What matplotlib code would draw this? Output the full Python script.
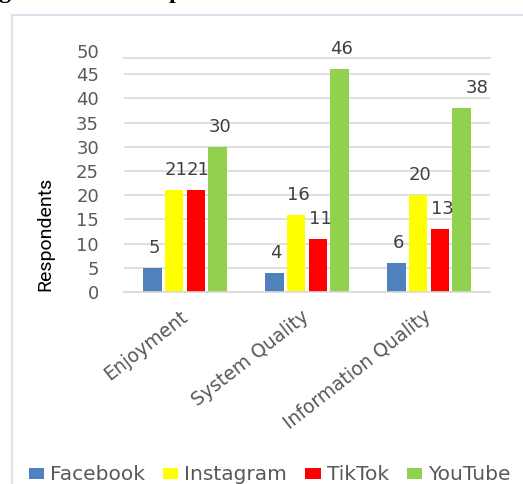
import numpy as np
import matplotlib
matplotlib.use("Agg")
import matplotlib.pyplot as plt
from matplotlib.lines import Line2D

# Respondents per platform for each ISS dimension
categories = ["Enjoyment", "System Quality", "Information Quality"]
platforms = ["Facebook", "Instagram", "TikTok", "YouTube"]
facebook = [5, 4, 6]
instagram = [21, 16, 20]
tiktok = [21, 11, 13]
youtube = [30, 46, 38]
colors = ["#4f81bd", "#ffff00", "#ff0000", "#92d050"]
yticks = [0, 5, 10, 15, 20, 25, 30, 35, 40, 45]

series = [facebook, instagram, tiktok, youtube]

W, H = 523, 484
fig = plt.figure(figsize=(W / 100, H / 100), dpi=100)
ax = fig.add_axes([124 / W, (H - 292) / H, 366 / W, 234 / H])

x = np.arange(len(categories))
step = 0.18
width = 0.155
bars = []
for i, (vals, col) in enumerate(zip(series, colors)):
    b = ax.bar(x + (i - 1.5) * step, vals, width, color=col, zorder=2, label=platforms[i])
    bars.append(b)
    for j, v in enumerate(vals):
        dx = 15 if v == 38 else 2
        ax.annotate(str(v), xy=(x[j] + (i - 1.5) * step, v), xytext=(dx, 20),
                    textcoords="offset pixels", ha="center", va="center",
                    fontsize=13, color="#404040", annotation_clip=False)

grid = "#d9d9d9"
ax.set_xlim(-0.5, 2.5)
ax.set_ylim(0, 48.35)
ax.set_yticks(yticks)
ax.yaxis.grid(True, color=grid, lw=1.2, zorder=0)
ax.set_axisbelow(True)
for s in ["left", "right"]:
    ax.spines[s].set_visible(False)
for s in ["top", "bottom"]:
    ax.spines[s].set_color(grid)
    ax.spines[s].set_linewidth(1.2)
ax.tick_params(axis="y", length=0, pad=18, labelsize=13, labelcolor="#595959")
ax.annotate("50", xy=(0, 49.4), xycoords=("axes fraction", "data"), xytext=(-25, 0),
            textcoords="offset pixels", ha="right", va="center", fontsize=13,
            color="#595959", annotation_clip=False)

ax.set_xticks(x)
ax.set_xticklabels(categories, rotation=38, ha="right", va="center",
                   rotation_mode="anchor", fontsize=13.5, color="#595959")
ax.tick_params(axis="x", length=0, pad=16)

fig.text(45 / W, 1 - 234 / H, "Respondents", rotation=90, ha="center", va="center",
         family=["Roboto", "DejaVu Sans"], fontsize=14, color="#000000")

fig.legend(handles=bars, labels=platforms, loc="center left",
           bbox_to_anchor=(29 / W, 1 - 475 / H), ncol=4, frameon=False,
           fontsize=14.5, handlelength=0.75, handleheight=0.5, handletextpad=0.3,
           columnspacing=0.9, borderaxespad=0, borderpad=0, labelcolor="#595959")

# chart frame and caption cut off at the top
fc = "#dbe3ef"
fig.add_artist(Line2D([12 / W, 12 / W], [0, 1 - 15 / H], color=fc, lw=1.5, transform=fig.transFigure))
fig.add_artist(Line2D([12 / W, 1], [1 - 15 / H, 1 - 15 / H], color=fc, lw=1.5, transform=fig.transFigure))
fig.text(-22 / W, 1 + 2 / H, "Figure 7 Students' preference based on ISS dimensions",
         family="Liberation Serif", weight="bold", fontsize=17, va="baseline")

fig.savefig("out.png", dpi=100)
